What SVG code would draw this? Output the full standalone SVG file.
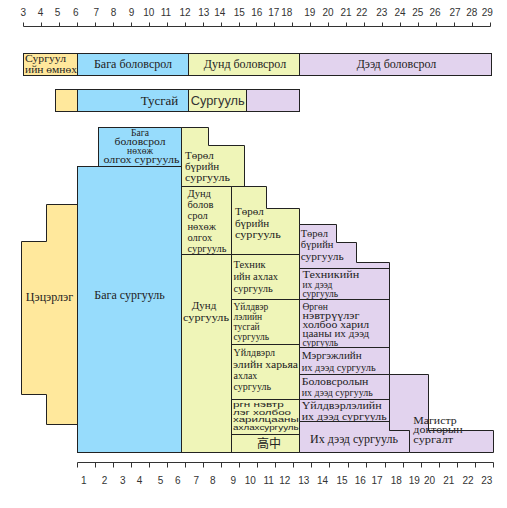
<svg xmlns="http://www.w3.org/2000/svg" width="507" height="508" viewBox="0 0 507 508">
<style>
.s{font-family:"Liberation Serif",serif;font-size:10.5px;fill:#222}
.ss{font-family:"Liberation Sans",sans-serif;fill:#222}
.n{font-family:"Liberation Sans",sans-serif;font-size:10px;fill:#333;text-anchor:middle}
.m{text-anchor:middle}
.e{text-anchor:end}
.y{fill:#FFE89C}
.b{fill:#97DCFC}
.g{fill:#EFF5B8}
.p{fill:#E2D3EE}
.box rect,.box polygon{stroke:#222;stroke-width:1}
.ax{stroke:#333;stroke-width:1;fill:none}
</style>
<rect width="507" height="508" fill="#fff"/>

<g id="top-axis">
<path class="ax" d="M23.5 26.5H490.5M23.5 22.5V26.5M41.5 22.5V26.5M59.5 22.5V26.5M77.5 22.5V26.5M95.5 22.5V26.5M113.5 22.5V26.5M131.5 22.5V26.5M149.5 22.5V26.5M167.5 22.5V26.5M185.5 22.5V26.5M203.5 22.5V26.5M221.5 22.5V26.5M239.5 22.5V26.5M256.5 22.5V26.5M274.5 22.5V26.5M292.5 22.5V26.5M310.5 22.5V26.5M328.5 22.5V26.5M346.5 22.5V26.5M364.5 22.5V26.5M382.5 22.5V26.5M400.5 22.5V26.5M418.5 22.5V26.5M436.5 22.5V26.5M454.5 22.5V26.5M472.5 22.5V26.5M490.5 22.5V26.5"/>
<text class="n" x="23.3" y="16">3</text><text class="n" x="40.5" y="16">4</text><text class="n" x="57.5" y="16">5</text><text class="n" x="75.8" y="16">6</text><text class="n" x="96.2" y="16">7</text><text class="n" x="113.5" y="16">8</text><text class="n" x="131.5" y="16">9</text><text class="n" x="148.7" y="16">10</text><text class="n" x="166" y="16">11</text><text class="n" x="185" y="16">12</text><text class="n" x="203.7" y="16">13</text><text class="n" x="219.7" y="16">14</text><text class="n" x="239.3" y="16">15</text><text class="n" x="256.7" y="16">16</text><text class="n" x="273.7" y="16">17</text><text class="n" x="286.7" y="16">18</text><text class="n" x="309.7" y="16">19</text><text class="n" x="328" y="16">20</text><text class="n" x="346" y="16">21</text><text class="n" x="361.7" y="16">22</text><text class="n" x="381.7" y="16">23</text><text class="n" x="400" y="16">24</text><text class="n" x="417.7" y="16">25</text><text class="n" x="435" y="16">26</text><text class="n" x="455" y="16">27</text><text class="n" x="471.7" y="16">28</text><text class="n" x="487.3" y="16">29</text>
</g>

<g id="level-bar" class="box">
<g id="preschool-level"><rect class="y" x="23.5" y="53.5" width="54" height="22"/>
<text class="s" style="font-size:9.5px" x="25" y="62" textLength="41" lengthAdjust="spacingAndGlyphs">Сургуул</text>
<text class="s" style="font-size:9.5px" x="25" y="72.5" textLength="52" lengthAdjust="spacingAndGlyphs">ийн өмнөх</text></g>
<g id="primary-level"><rect class="b" x="77.5" y="53.5" width="111" height="22"/>
<text class="s m" style="font-size:12px" x="133" y="68">Бага боловсрол</text></g>
<g id="secondary-level"><rect class="g" x="188.5" y="53.5" width="111" height="22"/>
<text class="s m" style="font-size:12px" x="245" y="68">Дунд боловсрол</text></g>
<g id="higher-level"><rect class="p" x="299.5" y="53.5" width="192" height="22"/>
<text class="s m" style="font-size:12px" x="396.5" y="68">Дээд боловсрол</text></g>
</g>

<g id="special-bar" class="box">
<rect class="y" x="55.5" y="89.5" width="22" height="22"/>
<rect class="b" x="77.5" y="89.5" width="111" height="22"/>
<rect class="g" x="188.5" y="89.5" width="58" height="22"/>
<rect class="p" x="246.5" y="89.5" width="53" height="22"/>
<text class="s e" style="font-size:13px" x="178.3" y="105">Тусгай</text>
<text class="ss" style="font-size:12.5px;fill:#333" x="190.7" y="105" textLength="54" lengthAdjust="spacingAndGlyphs">Сургууль</text>
</g>

<g class="box">
<g id="kindergarten"><polygon class="y" points="21.5,241.5 46.5,241.5 46.5,204.5 77.5,204.5 77.5,424.5 46.5,424.5 46.5,394.5 21.5,394.5"/>
<text class="s m" style="font-size:12px" x="49.5" y="300.5">Цэцэрлэг</text></g>

<g id="primary-remedial"><rect class="b" x="98.5" y="127.5" width="83" height="39"/>
<text class="s m" style="font-size:9.5px" x="140" y="136">Бага</text>
<text class="s m" style="font-size:9.5px" x="140" y="145" textLength="51" lengthAdjust="spacingAndGlyphs">боловсрол</text>
<text class="s m" style="font-size:9.5px" x="140" y="154">нөхөж</text>
<text class="s m" style="font-size:9.5px" x="141.5" y="163" textLength="76" lengthAdjust="spacingAndGlyphs">олгох сургууль</text></g>

<g id="primary-school"><rect class="b" x="77.5" y="166.5" width="104" height="286"/>
<text class="s m" style="font-size:12px" x="129.5" y="299">Бага сургууль</text></g>

<g id="vocational-1"><polygon class="g" points="181.5,127.5 208.5,127.5 208.5,145.5 244.5,145.5 244.5,186.5 181.5,186.5"/>
<text class="s" style="font-size:11px" x="185" y="159">Төрөл</text>
<text class="s" style="font-size:11px" x="185" y="170">бүрийн</text>
<text class="s" style="font-size:11px" x="185" y="181" textLength="45" lengthAdjust="spacingAndGlyphs">сургууль</text></g>

<g id="secondary-remedial"><rect class="g" x="181.5" y="186.5" width="50" height="68"/>
<text class="s" x="187.5" y="197">Дунд</text>
<text class="s" x="187.5" y="208">болов</text>
<text class="s" x="187.5" y="219">срол</text>
<text class="s" x="187.5" y="230">нөхөж</text>
<text class="s" x="187.5" y="241">олгох</text>
<text class="s" x="187.5" y="252" textLength="39" lengthAdjust="spacingAndGlyphs">сургууль</text></g>

<g id="secondary-school"><rect class="g" x="181.5" y="254.5" width="50" height="198"/>
<text class="s m" style="font-size:11px" x="204" y="309">Дунд</text>
<text class="s m" style="font-size:11px" x="206" y="320.5" textLength="46" lengthAdjust="spacingAndGlyphs">сургууль</text></g>

<g id="vocational-2"><polygon class="g" points="231.5,186.5 266.5,186.5 266.5,208.5 299.5,208.5 299.5,254.5 231.5,254.5"/>
<text class="s" style="font-size:11px" x="235" y="215">Төрөл</text>
<text class="s" style="font-size:11px" x="235" y="226.5">бүрийн</text>
<text class="s" style="font-size:11px" x="235" y="238" textLength="45.7" lengthAdjust="spacingAndGlyphs">сургууль</text></g>

<g id="technical-high"><rect class="g" x="231.5" y="254.5" width="68" height="45"/>
<text class="s" x="233.5" y="268">Техник</text>
<text class="s" x="233.5" y="280">ийн ахлах</text>
<text class="s" x="233.5" y="292">сургууль</text></g>

<g id="industrial-special"><rect class="g" x="231.5" y="299.5" width="68" height="45"/>
<text class="s" style="font-size:9.5px" x="233.5" y="309.5">Үйлдвэр</text>
<text class="s" style="font-size:9.5px" x="233.5" y="319.5">лэлийн</text>
<text class="s" style="font-size:9.5px" x="233.5" y="329.5">тусгай</text>
<text class="s" style="font-size:9.5px" x="233.5" y="339.5">сургууль</text></g>

<g id="industrial-high"><rect class="g" x="231.5" y="344.5" width="68" height="55"/>
<text class="s" style="font-size:10px" x="233.5" y="356">Үйлдвэрл</text>
<text class="s" style="font-size:10px" x="233" y="367.5" textLength="65" lengthAdjust="spacingAndGlyphs">элийн харьяа</text>
<text class="s" style="font-size:10px" x="233.5" y="378.5">ахлах</text>
<text class="s" style="font-size:10px" x="233.5" y="389.5">сургууль</text></g>

<g id="broadcast-high"><rect class="g" x="231.5" y="399.5" width="68" height="35"/>
<text class="ss" style="font-size:7.5px" x="233" y="407" textLength="50.7" lengthAdjust="spacingAndGlyphs">ргн нэвтр</text>
<text class="ss" style="font-size:7.5px" x="233" y="414.5" textLength="58" lengthAdjust="spacingAndGlyphs">лэг холбоо</text>
<text class="ss" style="font-size:7.5px" x="233" y="422" textLength="65.7" lengthAdjust="spacingAndGlyphs">харилцааны</text>
<text class="ss" style="font-size:7.5px" x="233" y="429.5" textLength="65.7" lengthAdjust="spacingAndGlyphs">ахлахсургууль</text></g>

<g id="gaozhong"><rect class="g" x="231.5" y="434.5" width="68" height="18"/>
<text class="ss m" style="font-family:'Noto Sans CJK SC','Noto Sans CJK JP',sans-serif;font-size:12px" x="269" y="447.5">高中</text></g>

<g id="vocational-3"><polygon class="p" points="299.5,224.5 336.5,224.5 336.5,242.5 356.5,242.5 356.5,262.5 389.5,262.5 389.5,268.5 299.5,268.5"/>
<text class="s" x="300.7" y="237">Төрөл</text>
<text class="s" x="300.7" y="248">бүрийн</text>
<text class="s" x="300.7" y="259.5" textLength="43" lengthAdjust="spacingAndGlyphs">сургууль</text></g>

<g id="technical-univ"><rect class="p" x="299.5" y="268.5" width="90" height="31"/>
<text class="s" style="font-size:9.5px" x="302.5" y="278" textLength="56.7" lengthAdjust="spacingAndGlyphs">Техникийн</text>
<text class="s" style="font-size:9.5px" x="302.5" y="287.5">их дээд</text>
<text class="s" style="font-size:9.5px" x="302.5" y="297">сургууль</text></g>

<g id="broadcast-univ"><rect class="p" x="299.5" y="299.5" width="90" height="48"/>
<text class="s" style="font-size:9.5px" x="302.5" y="309.5">Өргөн</text>
<text class="s" style="font-size:9.5px" x="302.5" y="318.5" textLength="57" lengthAdjust="spacingAndGlyphs">нэвтрүүлэг</text>
<text class="s" style="font-size:9.5px" x="302.5" y="327.5" textLength="66.7" lengthAdjust="spacingAndGlyphs">холбоо харил</text>
<text class="s" style="font-size:9.5px" x="302.5" y="336.5" textLength="66.7" lengthAdjust="spacingAndGlyphs">цааны их дээд</text>
<text class="s" style="font-size:9.5px" x="302.5" y="345.5">сургууль</text></g>

<g id="professional-univ"><rect class="p" x="299.5" y="347.5" width="90" height="27"/>
<text class="s" x="301.7" y="359" textLength="60" lengthAdjust="spacingAndGlyphs">Мэргэжлийн</text>
<text class="s" x="301.7" y="371" textLength="74" lengthAdjust="spacingAndGlyphs">их дээд сургууль</text></g>

<g id="education-univ"><rect class="p" x="299.5" y="374.5" width="90" height="25"/>
<text class="s" style="font-size:10px" x="301.7" y="384.5" textLength="66.7" lengthAdjust="spacingAndGlyphs">Боловсролын</text>
<text class="s" style="font-size:10px" x="301.7" y="396" textLength="71" lengthAdjust="spacingAndGlyphs">их дээд сургууль</text></g>

<g id="industrial-univ"><rect class="p" x="299.5" y="399.5" width="90" height="22"/>
<text class="s" style="font-size:9.5px" x="301.7" y="408.5" textLength="80" lengthAdjust="spacingAndGlyphs">Үйлдвэрлэлийн</text>
<text class="s" style="font-size:9.5px" x="301.7" y="419.5" textLength="85" lengthAdjust="spacingAndGlyphs">их дээд сургууль</text></g>

<g id="university"><polygon class="p" points="299.5,421.5 389.5,421.5 389.5,430.5 409.5,430.5 409.5,452.5 299.5,452.5"/>
<text class="s" style="font-size:12.5px" x="310" y="442.5" textLength="88" lengthAdjust="spacingAndGlyphs">Их дээд сургууль</text></g>

<g id="graduate"><polygon class="p" points="389.5,374.5 428.5,374.5 428.5,430.5 493.5,430.5 493.5,452.5 409.5,452.5 409.5,430.5 389.5,430.5"/>
<text class="s" style="font-size:9.5px" x="413.3" y="424" textLength="43.3" lengthAdjust="spacingAndGlyphs">Магистр</text>
<text class="s" style="font-size:9.5px" x="413.3" y="433" textLength="49.3" lengthAdjust="spacingAndGlyphs">докторын</text>
<text class="s" style="font-size:9.5px" x="413.3" y="442.5" textLength="40" lengthAdjust="spacingAndGlyphs">сургалт</text></g>
</g>

<g id="connectors"/>

<g id="bottom-axis">
<path class="ax" d="M77.5 462.5H493.5M77.5 462.5V467.5M95.5 462.5V467.5M113.5 462.5V467.5M131.5 462.5V467.5M149.5 462.5V467.5M167.5 462.5V467.5M185.5 462.5V467.5M203.5 462.5V467.5M221.5 462.5V467.5M239.5 462.5V467.5M257.5 462.5V467.5M275.5 462.5V467.5M293.5 462.5V467.5M311.5 462.5V467.5M329.5 462.5V467.5M348.5 462.5V467.5M366.5 462.5V467.5M385.5 462.5V467.5M403.5 462.5V467.5M421.5 462.5V467.5M439.5 462.5V467.5M457.5 462.5V467.5M475.5 462.5V467.5M493.5 462.5V467.5"/>
<text class="n" x="83.7" y="483.5">1</text><text class="n" x="104.5" y="483.5">2</text><text class="n" x="122.8" y="483.5">3</text><text class="n" x="139.5" y="483.5">4</text><text class="n" x="160.5" y="483.5">5</text><text class="n" x="177.8" y="483.5">6</text><text class="n" x="196.2" y="483.5">7</text><text class="n" x="212.8" y="483.5">8</text><text class="n" x="233.3" y="483.5">9</text><text class="n" x="250.3" y="483.5">10</text><text class="n" x="268.7" y="483.5">11</text><text class="n" x="284.7" y="483.5">12</text><text class="n" x="303.7" y="483.5">13</text><text class="n" x="322.5" y="483.5">14</text><text class="n" x="342" y="483.5">15</text><text class="n" x="360.3" y="483.5">16</text><text class="n" x="377" y="483.5">17</text><text class="n" x="396.2" y="483.5">18</text><text class="n" x="414.3" y="483.5">19</text><text class="n" x="429.5" y="483.5">20</text><text class="n" x="448.7" y="483.5">21</text><text class="n" x="468" y="483.5">22</text><text class="n" x="486.7" y="483.5">23</text>
</g>
</svg>
